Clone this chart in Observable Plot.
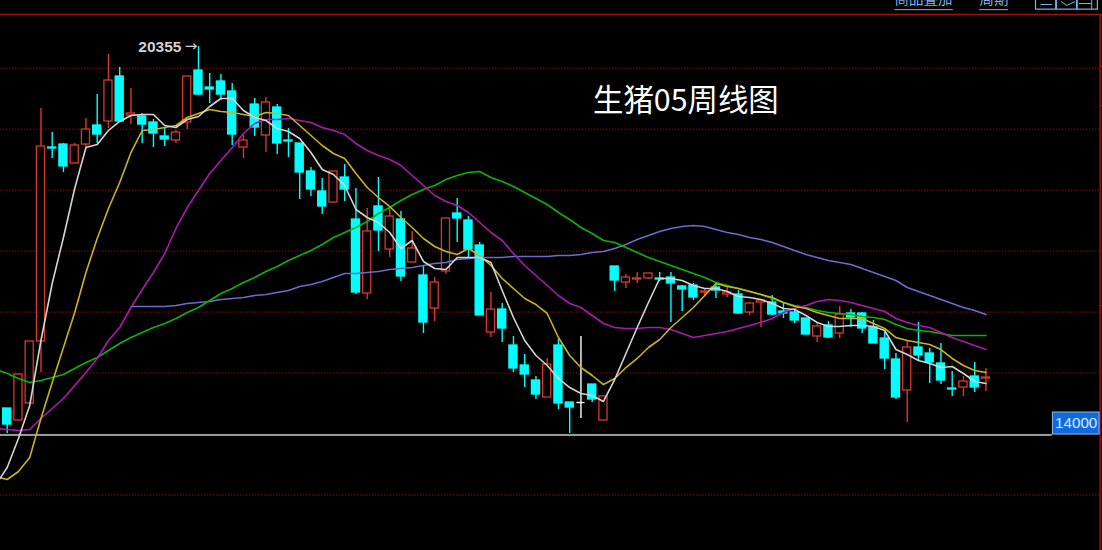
<!DOCTYPE html>
<html>
<head>
<meta charset="utf-8">
<style>html,body{margin:0;padding:0;background:#000;overflow:hidden}svg{display:block}</style>
<script src="https://cdn.jsdelivr.net/npm/d3@7"></script>
<script src="https://cdn.jsdelivr.net/npm/@observablehq/plot@0.6"></script>
</head>
<body>
<div id="chart"></div>
<script>
const title = "生猪05周线图";
const menuLabels = ["商品叠加", "周期"];
const peakLabel = "20355";
const priceTag = "14000";
const gridPrices = [13000, 14000, 15000, 16000, 17000, 18000, 19000, 20000];
const axisNotches = [20028, 19388, 16108];

const open = [14419,14222,14501,15518,18699,18748,18437,18748,19060,19126,19864,19224,19208,19109,18880,18814,19109,19962,19683,19782,19618,18699,19404,18896,19355,18814,18765,18306,17978,17797,18207,17518,16305,17732,17026,17518,16813,16600,16059,16666,17617,17502,17092,15665,16042,15452,15124,14878,14599,15452,14517,14517,14812,14222,16748,16485,16534,16551,16551,16567,16420,16436,16321,16403,16288,16288,15993,16157,16157,16010,15993,15895,15600,15780,15649,15977,15977,15747,15567,15222,14714,15419,15321,15157,14747,14763,14944,14911];
const close = [14156,14976,15518,18716,18683,18388,18732,18994,18912,19798,19126,19257,19076,18929,18830,18945,19864,19568,19650,19568,18912,18814,19027,19437,18765,18798,18289,18010,17732,18306,18010,16321,17322,17338,17568,16584,17043,15829,16485,17535,17535,17026,15944,16042,15731,15075,14976,14648,15140,14501,14435,14517,14566,14616,16518,16567,16551,16633,16534,16469,16370,16239,16338,16354,16321,15977,16141,16190,15960,15977,15862,15632,15764,15583,15960,15911,15731,15485,15239,14599,15419,15288,15173,14878,14730,14862,14763,14927];
const high = [14419,14976,15518,19339,18945,18765,18765,19175,19568,20224,20011,19667,19257,19158,19011,18978,19864,20355,19913,19896,19749,18896,19503,19519,19404,19011,18765,18371,18191,18306,18420,18027,17699,18207,17715,17650,17322,16748,16567,17535,17863,17568,17141,16321,16141,15600,15304,14944,15239,15550,14517,15600,14812,14616,16748,16616,16649,16633,16649,16649,16436,16469,16387,16485,16420,16354,16157,16190,16272,16141,16059,15895,15813,15846,16092,16042,15993,15862,15665,15321,15518,15829,15403,15485,15026,14944,15173,15075];
const low = [14009,14222,14501,15009,18519,18289,18437,18699,18765,19011,19126,19076,18765,18699,18716,18765,18994,19552,19421,19470,18732,18519,18880,18617,18584,18535,17846,17896,17600,17781,17814,16288,16206,16994,16895,16502,16813,15649,15846,16616,17141,16895,15944,15583,15501,15009,14763,14566,14599,14402,14009,14255,14517,14222,16338,16387,16469,16534,16502,15829,16010,16190,16256,16223,16239,15960,15944,15747,15944,15895,15813,15632,15501,15567,15567,15747,15649,15485,15058,14566,14189,15206,14829,14812,14616,14616,14681,14698];

// moving averages; the first value of each of the first four belongs to the week before the first candle
const ma5 = [13172,13451,13927,14468,15534,16469,17223,18027,18699,18748,18978,19126,19224,19240,19240,19060,19027,19158,19208,19372,19503,19503,19306,19191,19142,19011,18962,18847,18617,18338,18256,18076,17682,17551,17469,17305,17043,17174,16830,16715,16698,16895,16895,16895,16813,16354,15911,15534,15288,15124,14911,14763,14665,14632,14534,14894,15321,15747,16157,16551,16551,16518,16436,16387,16387,16338,16256,16239,16206,16141,16059,16042,15944,15829,15764,15764,15780,15780,15764,15698,15386,15304,15206,15157,15091,15108,14993,14862,14829];
const ma10 = [13304,13254,13386,13615,14255,14845,15419,15993,16649,17207,17699,18125,18617,18978,18994,19027,19060,19191,19257,19322,19290,19273,19240,19208,19273,19257,19224,19060,18896,18732,18601,18519,18273,18043,17879,17732,17551,17387,17207,17076,16994,16944,17043,16928,16764,16551,16387,16223,16124,15977,15583,15288,15091,14960,14812,14911,15091,15239,15419,15550,15747,15911,16075,16272,16469,16420,16387,16338,16288,16239,16157,16092,16059,15993,15944,15895,15895,15895,15813,15731,15583,15534,15501,15468,15386,15239,15124,15042,15009];
const ma20 = [14091,14074,14058,14074,14255,14419,14583,14796,15009,15239,15534,15747,16075,16370,16649,16961,17371,17715,17994,18273,18486,18699,18929,19093,19158,19158,19175,19142,19109,19027,18978,18912,18765,18650,18568,18502,18404,18240,18076,17912,17814,17748,17633,17469,17305,17174,16961,16764,16600,16436,16272,16141,16075,15944,15813,15747,15731,15731,15747,15747,15714,15649,15583,15616,15649,15682,15731,15780,15829,15895,15993,16059,16108,16174,16206,16190,16157,16108,16059,16010,15895,15829,15780,15747,15665,15583,15518,15452,15386];
const ma40 = [15058,14993,14911,14845,14878,14927,14976,15075,15173,15255,15370,15485,15583,15665,15747,15813,15895,15993,16075,16190,16305,16387,16485,16567,16666,16748,16846,16928,17010,17108,17223,17305,17387,17486,17617,17715,17830,17928,18010,18076,18174,18240,18289,18306,18207,18142,18060,17961,17863,17764,17633,17518,17387,17289,17174,17141,17059,16977,16895,16830,16764,16698,16633,16567,16485,16436,16387,16338,16288,16223,16157,16108,16075,16026,15993,15977,15960,15928,15911,15878,15796,15731,15698,15682,15649,15616,15616,15616,15616];
const ma60 = [16092,16092,16092,16092,16108,16141,16157,16174,16206,16223,16239,16272,16288,16321,16354,16420,16452,16502,16567,16633,16633,16649,16666,16698,16715,16731,16764,16797,16813,16862,16879,16895,16895,16895,16912,16912,16912,16912,16928,16928,16944,16977,16994,17043,17108,17190,17256,17322,17371,17404,17420,17404,17354,17305,17272,17223,17190,17141,17076,17010,16944,16895,16846,16813,16780,16715,16649,16584,16518,16403,16338,16272,16206,16141,16075,16026,15960];

const candles = open.map((o, i) => ({i, open: o, close: close[i], high: high[i], low: low[i]}));
const colour = d => d.close > d.open ? "#d8392f" : d.close < d.open ? "#00ffff" : "#ffffff";
const isUp = d => d.close > d.open;
const series = (values, first) => values.map((v, k) => ({i: k + first, v}));
const avgLines = [
  {values: ma60, first: 11, color: "#6a6ccc"},
  {values: ma40, first: -1, color: "#08b408"},
  {values: ma20, first: -1, color: "#ae18ae"},
  {values: ma10, first: -1, color: "#c8b41e"},
  {values: ma5,  first: -1, color: "#d4d4d4"}
];

const red = "#9c1414";
const toolbar = "#7fb2e8";
const fontCJK = "'Noto Sans CJK SC','Noto Sans',sans-serif";
const bodyW = 0.36;

const chart = Plot.plot({
  width: 1102,
  height: 550,
  margin: 0,
  style: {background: "#000", fontFamily: "Liberation Sans, sans-serif"},
  x: {axis: null, domain: [-0.5956, 97.36], range: [0, 1102]},
  y: {axis: null, domain: [12090, 21110], range: [550, 0]},
  marks: [
    Plot.ruleY(gridPrices, {x1: -0.6, x2: 97.1, stroke: "#8a0c0c", strokeWidth: 1, strokeDasharray: "1.5,1.5"}),
    Plot.ruleY([13983], {x1: -0.6, x2: 92.9, stroke: "#c9c9c9", strokeWidth: 1.6}),
    // frame lines of the quote window
    Plot.ruleY([20880], {x1: -0.6, x2: 97.4, stroke: red, strokeWidth: 1.4}),
    Plot.ruleX([97.15], {y1: 12090, y2: 20880, stroke: red, strokeWidth: 1.4}),
    Plot.ruleY(axisNotches, {x1: 97.15, x2: 97.4, stroke: red, strokeWidth: 1.2}),
    // wicks
    Plot.ruleX(candles, {x: "i", y1: "low", y2: "high", stroke: colour, strokeWidth: 1.4}),
    // bodies
    Plot.rectY(candles.filter(d => d.open !== d.close), {
      x1: d => d.i - bodyW, x2: d => d.i + bodyW, y1: "open", y2: "close",
      fill: d => isUp(d) ? "#000" : colour(d), stroke: colour, strokeWidth: 1.3
    }),
    Plot.ruleY(candles.filter(d => d.open === d.close), {
      x1: d => d.i - bodyW, x2: d => d.i + bodyW, y: "close", stroke: colour, strokeWidth: 1.4
    }),
    // moving averages
    ...avgLines.map(l => Plot.line(series(l.values, l.first), {
      x: "i", y: "v", stroke: l.color, strokeWidth: 1.6, curve: "linear"
    })),
    // peak annotation
    Plot.text([peakLabel], {
      x: [17], y: [20355], textAnchor: "end", dx: -17, fill: "#d2d2d2",
      fontSize: 15.5, fontWeight: "bold"
    }),
    Plot.text(["→"], {
      x: [17], y: [20355], textAnchor: "end", dx: -1, fill: "#d2d2d2",
      fontSize: 15, fontFamily: "DejaVu Sans"
    }),
    // title
    Plot.text([title], {
      frameAnchor: "top-left", dx: 592.5, dy: 89, textAnchor: "start", lineAnchor: "top",
      fill: "#fff", fontSize: 30.4, fontFamily: fontCJK
    }),
    // price tag
    Plot.rect([priceTag], {
      x1: [92.95], x2: [97.1], y1: [13992], y2: [14353],
      fill: "#0f6ae0", stroke: "#8fb8f0", strokeWidth: 1
    }),
    Plot.text([priceTag], {
      x: [95.02], y: [14172], fill: "#dcebff", fontSize: 15.2
    }),
    // toolbar, cropped by the top of the window as in the original screenshot
    Plot.text([menuLabels[0]], {
      frameAnchor: "top-left", dx: 894, dy: -7, textAnchor: "start", lineAnchor: "top",
      fill: toolbar, fontSize: 14.5, fontFamily: fontCJK
    }),
    Plot.text([menuLabels[1]], {
      frameAnchor: "top-left", dx: 979, dy: -7, textAnchor: "start", lineAnchor: "top",
      fill: toolbar, fontSize: 14.5, fontFamily: fontCJK
    }),
    Plot.ruleY([20960], {x1: 78.9, x2: 84.1, stroke: toolbar, strokeWidth: 1}),
    Plot.ruleY([20960], {x1: 86.45, x2: 89, stroke: toolbar, strokeWidth: 1}),
    Plot.rect([91.45, 93.3, 95.15], {
      x1: d => d, x2: d => d + 1.8, y1: 20960, y2: 21300,
      fill: "none", stroke: toolbar, strokeWidth: 1.2
    }),
    Plot.ruleY([21044], {x1: 91.9, x2: 92.9, stroke: toolbar, strokeWidth: 1}),
    Plot.line([[93.7, 21090], [94.2, 21030], [94.9, 21090]], {stroke: toolbar, strokeWidth: 1}),
    Plot.ruleX([96.4], {y1: 20960, y2: 21110, stroke: toolbar, strokeWidth: 1}),
    Plot.ruleY([21060], {x1: 95.3, x2: 96.4, stroke: toolbar, strokeWidth: 1})
  ]
});
document.getElementById("chart").appendChild(chart);
</script>
</body>
</html>
